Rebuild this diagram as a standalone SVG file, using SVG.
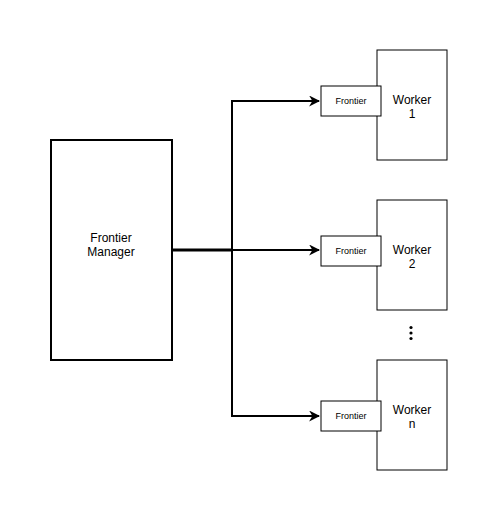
<svg xmlns="http://www.w3.org/2000/svg" width="497" height="521" viewBox="0 0 497 521">
<style>
.box{fill:#fff;stroke:#000;stroke-width:2}
.sm{fill:#fff;stroke:#000;stroke-width:1}
.t{font-family:"Liberation Sans",Arial,sans-serif;fill:#000;text-anchor:middle}
.w{font-size:12px}
.f{font-size:9px}
.c{fill:none;stroke:#000;stroke-width:2}
</style>
<defs>
<marker id="a" viewBox="0 0 10 10" refX="9" refY="5" markerWidth="5.5" markerHeight="5.5" orient="auto" markerUnits="strokeWidth">
<path d="M0,0 L10,5 L0,10 L3,5 Z" fill="#000"/>
</marker>
</defs>
<rect width="497" height="521" fill="#fff"/>
<g id="connectors">
<path class="c" d="M172,250 H232 V101 H319" marker-end="url(#a)"/>
<path class="c" d="M172,250 H319" marker-end="url(#a)"/>
<path class="c" d="M172,250 H232 V416 H319" marker-end="url(#a)"/>
<path d="M172,250 H232" stroke="#000" stroke-width="3" fill="none"/>
</g>
<g id="manager">
<rect class="box" x="51" y="140" width="121" height="220"/>
<text class="t w" x="111" y="242">Frontier</text>
<text class="t w" x="111" y="256">Manager</text>
</g>
<g id="worker1">
<rect class="sm" x="377" y="50" width="70" height="110"/>
<text class="t w" x="412" y="104">Worker</text>
<text class="t w" x="412" y="118">1</text>
</g>
<g id="frontier1">
<rect class="sm" x="321" y="86" width="60" height="30"/>
<text class="t f" x="351" y="104">Frontier</text>
</g>
<g id="worker2">
<rect class="sm" x="377" y="200" width="70" height="110"/>
<text class="t w" x="412" y="254">Worker</text>
<text class="t w" x="412" y="268">2</text>
</g>
<g id="frontier2">
<rect class="sm" x="321" y="236" width="60" height="30"/>
<text class="t f" x="351" y="254">Frontier</text>
</g>
<g id="workern">
<rect class="sm" x="377" y="360" width="70" height="110"/>
<text class="t w" x="412" y="414">Worker</text>
<text class="t w" x="412" y="428">n</text>
</g>
<g id="frontiern">
<rect class="sm" x="321" y="401" width="60" height="30"/>
<text class="t f" x="351" y="419">Frontier</text>
</g>
<g id="dots" fill="#000">
<circle cx="411" cy="327.5" r="1.6"/>
<circle cx="411" cy="333" r="1.6"/>
<circle cx="411" cy="338.5" r="1.6"/>
</g>
</svg>
